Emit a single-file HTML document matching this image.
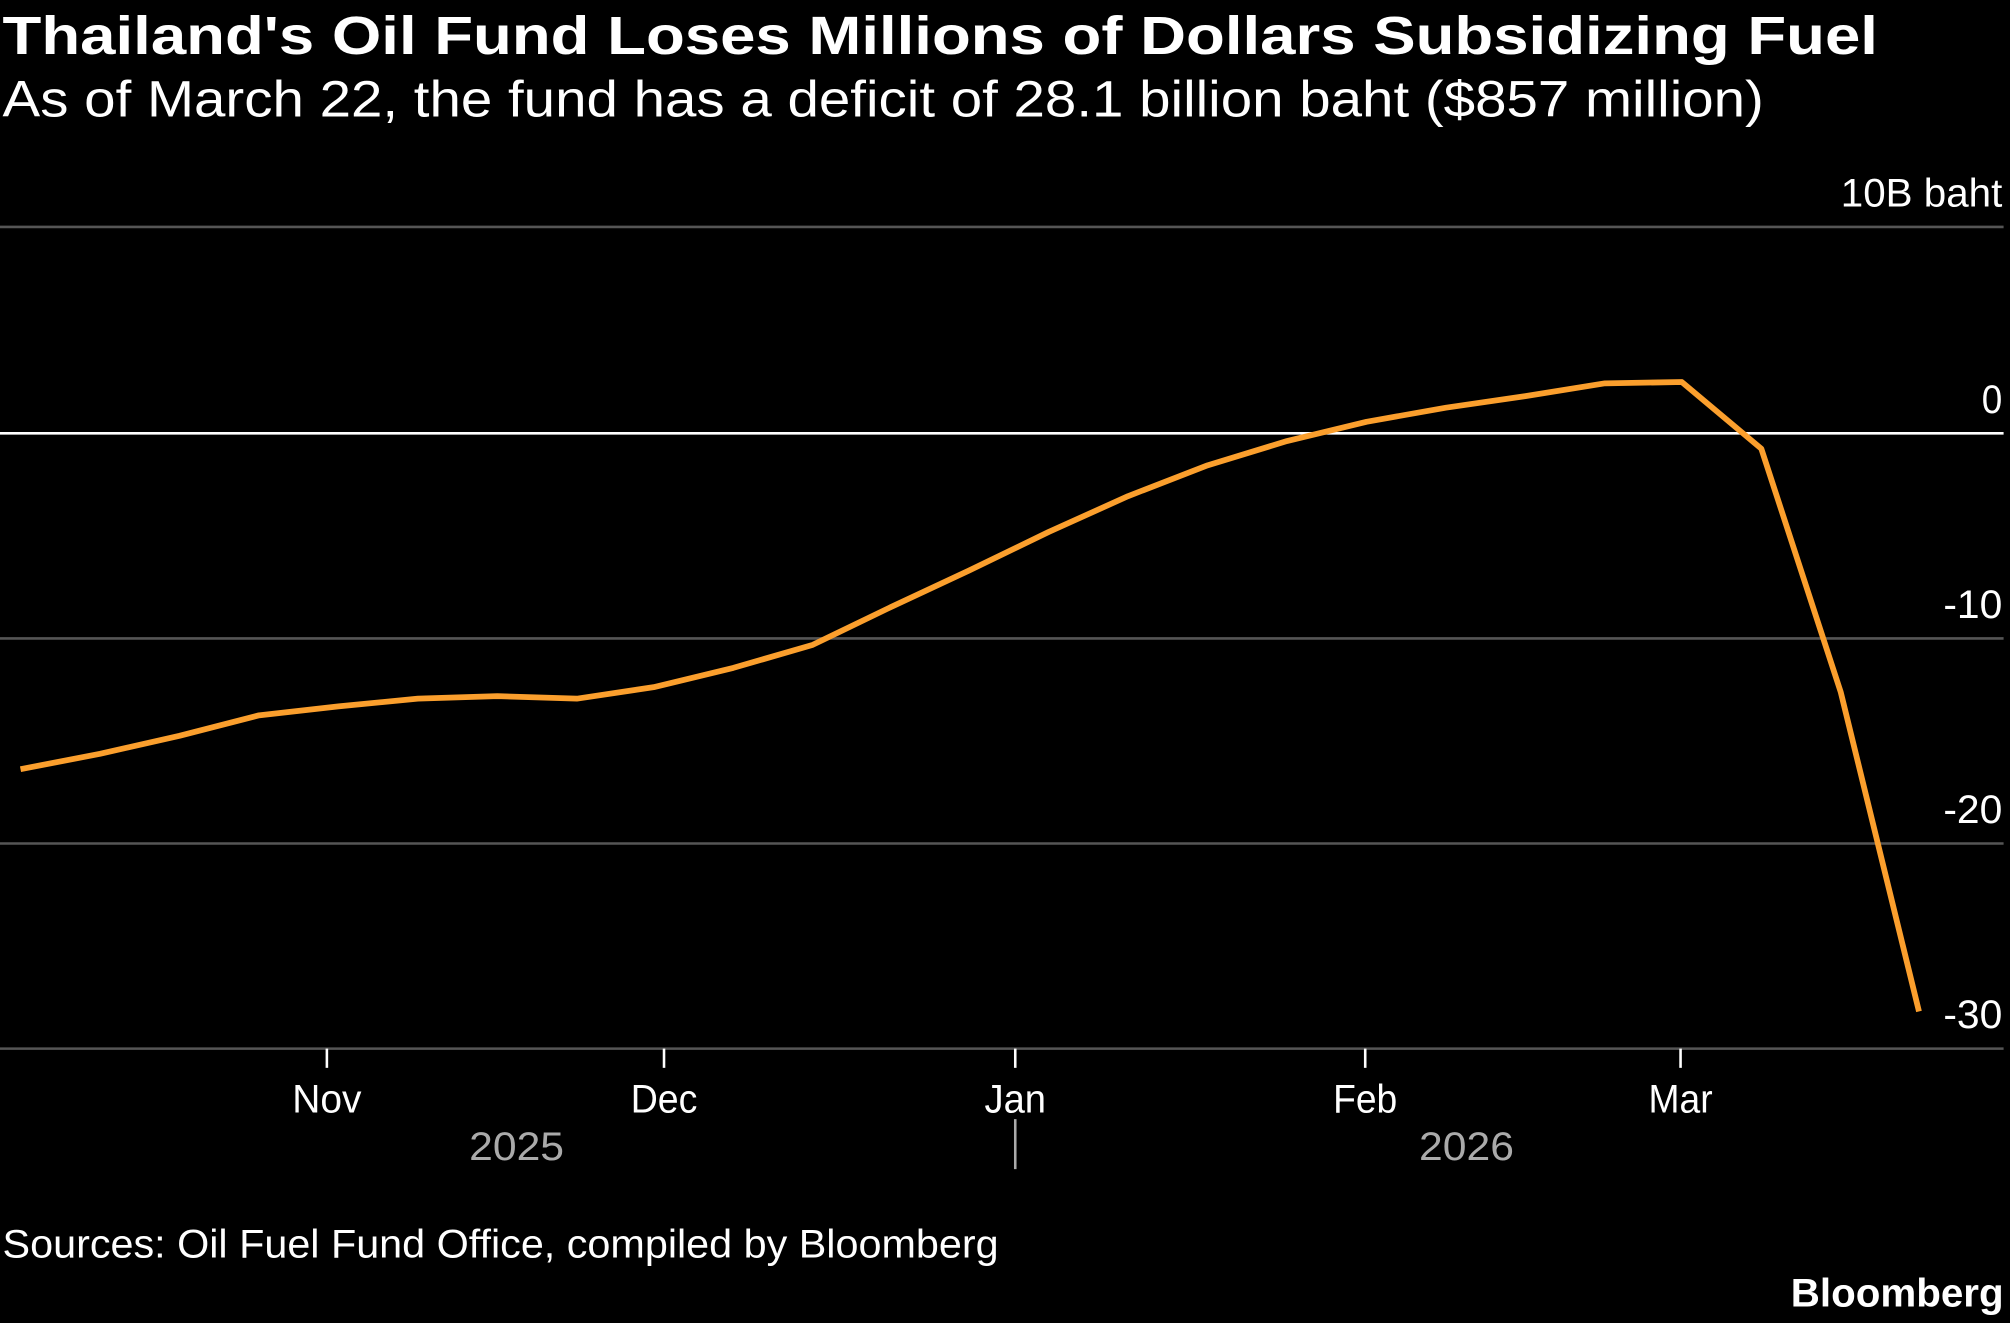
<!DOCTYPE html>
<html><head><meta charset="utf-8"><style>
html,body{margin:0;padding:0;background:#000;}
svg{display:block;}
text{font-family:"Liberation Sans",sans-serif;}
</style></head><body>
<svg width="2010" height="1323" viewBox="0 0 1568 1032" xmlns="http://www.w3.org/2000/svg">
<rect width="1568" height="1032" fill="#000"/>
<text x="2" y="42" font-size="42" font-weight="bold" fill="#fff" textLength="1463" lengthAdjust="spacingAndGlyphs">Thailand's Oil Fund Loses Millions of Dollars Subsidizing Fuel</text>
<text x="2" y="91" font-size="40" fill="#fff" textLength="1374" lengthAdjust="spacingAndGlyphs">As of March 22, the fund has a deficit of 28.1 billion baht ($857 million)</text>
<g stroke="#555" stroke-width="2">
<line x1="0" y1="177" x2="1563" y2="177"/>
<line x1="0" y1="498" x2="1563" y2="498"/>
<line x1="0" y1="658" x2="1563" y2="658"/>
<line x1="0" y1="818" x2="1563" y2="818"/>
</g>
<line x1="0" y1="338" x2="1563" y2="338" stroke="#fff" stroke-width="2"/>
<g font-size="31" fill="#fff" text-anchor="end">
<text x="1562" y="161" textLength="126" lengthAdjust="spacingAndGlyphs">10B baht</text>
<text x="1562" y="322" textLength="16" lengthAdjust="spacingAndGlyphs">0</text>
<text x="1562" y="482" textLength="46" lengthAdjust="spacingAndGlyphs">-10</text>
<text x="1562" y="642" textLength="46" lengthAdjust="spacingAndGlyphs">-20</text>
<text x="1562" y="802" textLength="46" lengthAdjust="spacingAndGlyphs">-30</text>
</g>
<g stroke="#fff" stroke-width="2">
<line x1="255" y1="818" x2="255" y2="833"/>
<line x1="518" y1="818" x2="518" y2="833"/>
<line x1="792" y1="818" x2="792" y2="833"/>
<line x1="1065" y1="818" x2="1065" y2="833"/>
<line x1="1311" y1="818" x2="1311" y2="833"/>
</g>
<line x1="792" y1="873" x2="792" y2="912" stroke="#aaa" stroke-width="2"/>
<g font-size="31" fill="#fff" text-anchor="middle">
<text x="255" y="868" textLength="54" lengthAdjust="spacingAndGlyphs">Nov</text>
<text x="518" y="868" textLength="52" lengthAdjust="spacingAndGlyphs">Dec</text>
<text x="792" y="868" textLength="48" lengthAdjust="spacingAndGlyphs">Jan</text>
<text x="1065" y="868" textLength="50" lengthAdjust="spacingAndGlyphs">Feb</text>
<text x="1311" y="868" textLength="50" lengthAdjust="spacingAndGlyphs">Mar</text>
</g>
<g font-size="31" fill="#aaa" text-anchor="middle">
<text x="403" y="905" textLength="74" lengthAdjust="spacingAndGlyphs">2025</text>
<text x="1144" y="905" textLength="74" lengthAdjust="spacingAndGlyphs">2026</text>
</g>
<polyline fill="none" stroke="#fb9f2d" stroke-width="4.5" stroke-linejoin="round"
points="16,600 78,588 140,574 202,558 264,551 326,545 388,543 450,545 510,536 572,521 634,503 694,474 756,445 818,415 880,387 942,363 1004,344 1066,329 1128,318 1190,309 1252,299 1312,298 1374,350 1436,540 1497,789"/>
<text x="2" y="981" font-size="31" fill="#fff" textLength="777" lengthAdjust="spacingAndGlyphs">Sources: Oil Fuel Fund Office, compiled by Bloomberg</text>
<text x="1563" y="1019" font-size="31" font-weight="bold" fill="#fff" text-anchor="end" textLength="166" lengthAdjust="spacingAndGlyphs">Bloomberg</text>
</svg>
</body></html>
